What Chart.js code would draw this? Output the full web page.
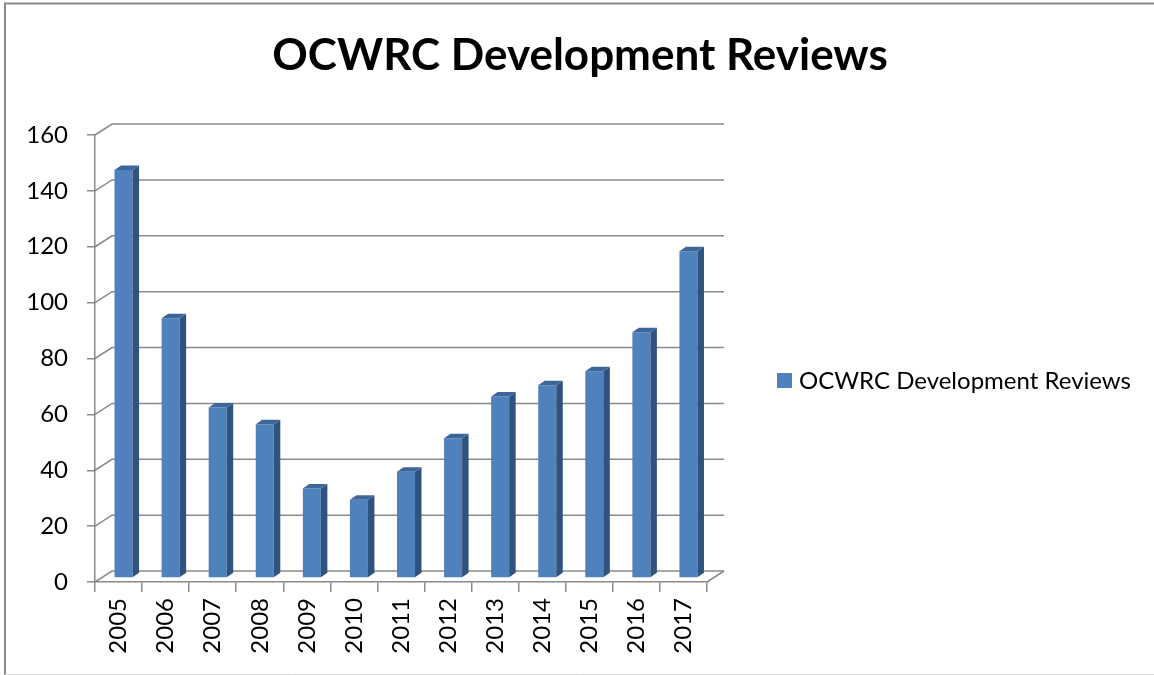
<!DOCTYPE html>
<html>
<head>
<meta charset="utf-8">
<script src="https://cdn.jsdelivr.net/npm/chart.js@4.4.1/dist/chart.umd.min.js"></script>
<style>
	body { margin: 0; background: #fff; }
	canvas { display: block; }
</style>
</head>
<body>
<canvas id="reviews-chart" width="1154" height="675"></canvas>
<script>
// data
const years = ["2005", "2006", "2007", "2008", "2009", "2010", "2011", "2012", "2013", "2014", "2015", "2016", "2017"];
const reviews = [146, 93, 61, 55, 32, 28, 38, 50, 65, 69, 74, 88, 117];
const seriesName = "OCWRC Development Reviews";
const chartTitle = "OCWRC Development Reviews";
const yMin = 0;
const yMax = 160;
const yStep = 20;

const wallColor = "#8a8a8a";
// depth of back wall and of the bars
const wallDx = 17, wallDy = -11;
const barShiftX = 5, barShiftY = -4;
const barDx = 6.5, barDy = -4.5;

Chart.defaults.font.family = "Lato";
Chart.defaults.color = "#000";

const look3d = {
	id: "look3d",
	beforeDraw(chart) {
		const ctx = chart.ctx;
		ctx.save();
		// outer frame (left + top visible)
		ctx.strokeStyle = "#888";
		ctx.lineWidth = 2;
		ctx.beginPath();
		ctx.moveTo(5, 675);
		ctx.lineTo(5, 3.5);
		ctx.lineTo(1154, 3.5);
		ctx.stroke();
		ctx.strokeStyle = "#ddd";
		ctx.lineWidth = 1;
		ctx.beginPath();
		ctx.moveTo(5, 674.5);
		ctx.lineTo(1154, 674.5);
		ctx.stroke();
		ctx.restore();
	},
	beforeDatasetsDraw(chart) {
		const ctx = chart.ctx;
		const area = chart.chartArea;
		const y = chart.scales.y;
		ctx.save();
		ctx.strokeStyle = wallColor;
		ctx.lineWidth = 1.5;
		y.ticks.forEach((t) => {
			const py = y.getPixelForValue(t.value);
			ctx.beginPath();
			ctx.moveTo(area.left, py);
			ctx.lineTo(area.left + wallDx, py + wallDy);
			ctx.lineTo(area.right + wallDx, py + wallDy);
			ctx.stroke();
		});
		// right edge of the floor
		ctx.beginPath();
		ctx.moveTo(area.right, area.bottom);
		ctx.lineTo(area.right + wallDx, area.bottom + wallDy);
		ctx.stroke();
		ctx.restore();

		ctx.save();
		ctx.translate(barShiftX, barShiftY);
	},
	afterDatasetsDraw(chart) {
		const ctx = chart.ctx;
		const meta = chart.getDatasetMeta(0);
		meta.data.forEach((bar) => {
			const p = bar.getProps(["x", "y", "base", "width"], true);
			const l = p.x - p.width / 2;
			const r = p.x + p.width / 2;
			// side face
			ctx.fillStyle = "#30527f";
			ctx.beginPath();
			ctx.moveTo(r, p.y);
			ctx.lineTo(r + barDx, p.y + barDy);
			ctx.lineTo(r + barDx, p.base + barDy);
			ctx.lineTo(r, p.base);
			ctx.closePath();
			ctx.fill();
			// top face
			ctx.fillStyle = "#3c669a";
			ctx.beginPath();
			ctx.moveTo(l, p.y);
			ctx.lineTo(l + barDx, p.y + barDy);
			ctx.lineTo(r + barDx, p.y + barDy);
			ctx.lineTo(r, p.y);
			ctx.closePath();
			ctx.fill();
		});
		ctx.restore();
	},
	afterDraw(chart) {
		const ctx = chart.ctx;
		const ds = chart.data.datasets[0];
		ctx.save();
		// title, centred on the whole canvas
		ctx.fillStyle = "#000";
		ctx.font = "bold 44px Lato";
		ctx.textAlign = "center";
		ctx.textBaseline = "alphabetic";
		ctx.fillText(chartTitle, 580, 70);
		// legend on the right
		ctx.textAlign = "left";
		ctx.fillStyle = ds.backgroundColor;
		ctx.fillRect(777, 373, 15, 15);
		ctx.fillStyle = "#000";
		ctx.font = "24px Lato";
		ctx.fillText(ds.label, 799, 389);
		ctx.restore();
	},
};

const reviewsCanvas = document.getElementById("reviews-chart");

const reviewsChart = new Chart(reviewsCanvas, {
	type: "bar",
	data: {
		labels: years,
		datasets: [
			{
				label: seriesName,
				data: reviews,
				backgroundColor: "#4f81bd",
				borderWidth: 0,
				barPercentage: 0.383,
				categoryPercentage: 1,
			},
		],
	},
	options: {
		responsive: false,
		animation: false,
		devicePixelRatio: 1,
		layout: {
			padding: { top: 135, left: 0, right: 447, bottom: 0 },
		},
		plugins: {
			legend: { display: false },
			tooltip: { enabled: false },
			title: { display: false },
		},
		scales: {
			x: {
				offset: true,
				grid: {
					offset: true,
					drawOnChartArea: false,
					drawTicks: true,
					tickLength: 10,
					color: wallColor,
					lineWidth: 1.5,
				},
				border: { display: true, color: wallColor, width: 1.5 },
				ticks: {
					minRotation: 90,
					maxRotation: 90,
					padding: 6,
					font: { size: 24 },
				},
				afterFit: (scale) => {
					scale.height = 93;
				},
			},
			y: {
				min: yMin,
				max: yMax,
				grid: {
					drawOnChartArea: false,
					drawTicks: true,
					tickLength: 8,
					color: wallColor,
					lineWidth: 1.5,
				},
				border: { display: true, color: wallColor, width: 1.5 },
				ticks: {
					stepSize: yStep,
					padding: 19,
					font: { size: 24 },
				},
				afterFit: (scale) => {
					scale.width = 95;
				},
			},
		},
	},
	plugins: [look3d],
});
</script>
</body>
</html>
